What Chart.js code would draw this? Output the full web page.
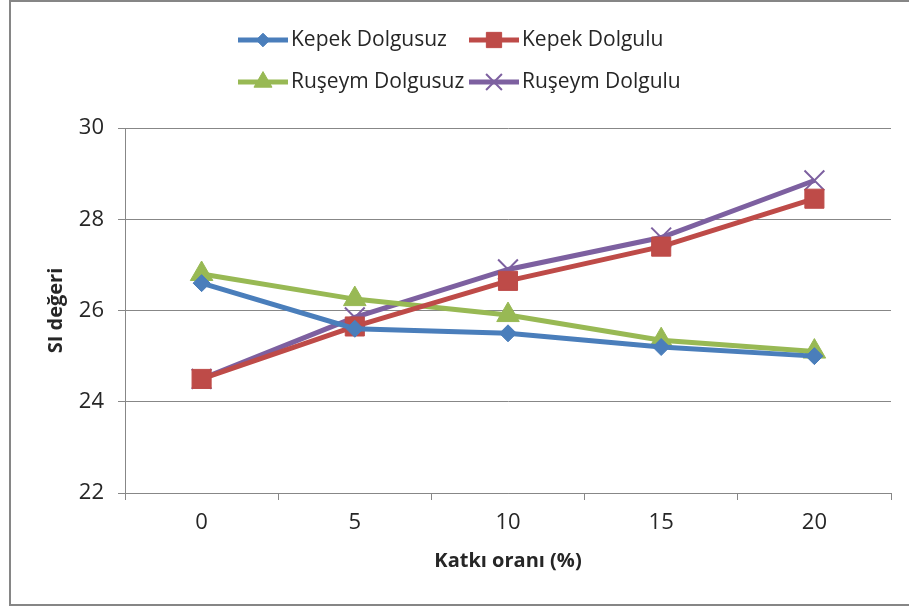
<!DOCTYPE html>
<html>
<head>
<meta charset="utf-8">
<script src="https://cdn.jsdelivr.net/npm/chart.js@4/dist/chart.umd.min.js"></script>
<style>
  html, body { margin: 0; padding: 0; background: #fff; }
  #wrap { width: 909px; height: 607px; position: relative; }
</style>
</head>
<body>
<div id="wrap"><canvas id="c" width="909" height="607"></canvas></div>
<script>
const categories = ['0', '5', '10', '15', '20'];
const kepekDolgusuz = [26.6, 25.6, 25.5, 25.2, 25.0];
const kepekDolgulu = [24.5, 25.65, 26.65, 27.4, 28.45];
const rusDolgusuz = [26.8, 26.25, 25.9, 25.35, 25.1];
const rusDolgulu = [24.5, 25.85, 26.9, 27.6, 28.85];
const seriesNames = ['Kepek Dolgusuz', 'Kepek Dolgulu', 'Ruşeym Dolgusuz', 'Ruşeym Dolgulu'];
const yTicks = [22, 24, 26, 28, 30];

const FONT = '"Open Sans", "Noto Sans", sans-serif';
const TEXT = '#262626';
const GRID = '#878787';

const styles = [
  { color: '#4A7EBB', point: 'rectRot', radius: 8.5, bw: 1 },
  { color: '#BE4B48', point: 'rect', radius: 13.5, bw: 1 },
  { color: '#98B954', point: 'triangle', radius: 13, bw: 1 },
  { color: '#7D60A0', point: 'crossRot', radius: 14, bw: 2 }
];
const values = [kepekDolgusuz, kepekDolgulu, rusDolgusuz, rusDolgulu];

const datasets = values.map((v, i) => ({
  label: seriesNames[i],
  data: v,
  borderColor: styles[i].color,
  backgroundColor: styles[i].color,
  borderWidth: 5,
  pointStyle: styles[i].point,
  pointRadius: styles[i].radius,
  pointHoverRadius: styles[i].radius,
  pointBorderWidth: styles[i].bw,
  pointBackgroundColor: styles[i].color,
  pointBorderColor: styles[i].color,
  tension: 0
}));

const legendPlugin = {
  id: 'customLegend',
  afterDraw(chart) {
    const ctx = chart.ctx;
    const cols = [238, 469];
    const rows = [40, 82];
    ctx.save();
    ctx.font = '21px ' + FONT;
    ctx.textBaseline = 'middle';
    ctx.textAlign = 'left';
    chart.data.datasets.forEach((ds, i) => {
      const x = cols[i % 2];
      const y = rows[Math.floor(i / 2)];
      ctx.strokeStyle = ds.borderColor;
      ctx.lineWidth = 5;
      ctx.lineCap = 'butt';
      ctx.beginPath();
      ctx.moveTo(x, y);
      ctx.lineTo(x + 50, y);
      ctx.stroke();
      ctx.fillStyle = ds.backgroundColor;
      ctx.lineWidth = ds.pointBorderWidth;
      Chart.helpers.drawPoint(ctx, { pointStyle: ds.pointStyle, radius: ds.pointRadius * 0.8, borderWidth: ds.pointBorderWidth, rotation: 0 }, x + 25, y);
      ctx.fillStyle = TEXT;
      ctx.fillText(ds.label, x + 53, y);
    });
    ctx.restore();
  }
};

const framePlugin = {
  id: 'frame',
  beforeDraw(chart) {
    const ctx = chart.ctx;
    ctx.save();
    ctx.fillStyle = '#fff';
    ctx.fillRect(0, 0, chart.width, chart.height);
    ctx.strokeStyle = '#868686';
    ctx.lineWidth = 2;
    ctx.beginPath();
    ctx.moveTo(909, 1);
    ctx.lineTo(10, 1);
    ctx.lineTo(10, 605);
    ctx.lineTo(909, 605);
    ctx.stroke();
    ctx.restore();
  }
};

new Chart(document.getElementById('c'), {
  type: 'line',
  data: { labels: categories, datasets },
  options: {
    responsive: false,
    animation: false,
    devicePixelRatio: 1,
    layout: { padding: { top: 128, right: 18, bottom: 0, left: 0 } },
    plugins: { legend: { display: false }, tooltip: { enabled: false } },
    scales: {
      x: {
        type: 'category',
        offset: true,
        grid: { offset: true, drawOnChartArea: false, drawTicks: true, tickLength: 7, color: GRID, lineWidth: 1 },
        border: { display: true, color: GRID, width: 1 },
        ticks: { color: TEXT, font: { family: FONT, size: 22 }, padding: 10, maxRotation: 0 },
        title: { display: true, text: 'Katkı oranı (%)', color: TEXT, font: { family: FONT, size: 20, weight: 'bold' }, padding: { top: 0, bottom: 34 } },
        afterFit(scale) { scale.height = 114; }
      },
      y: {
        min: 22,
        max: 30,
        afterBuildTicks(scale) { scale.ticks = yTicks.map(v => ({ value: v })); },
        grid: { drawTicks: true, tickLength: 7, color: GRID, lineWidth: 1 },
        border: { display: true, color: GRID, width: 1 },
        ticks: { color: TEXT, font: { family: FONT, size: 22 }, padding: 14 },
        title: { display: true, text: 'SI değeri', color: TEXT, font: { family: FONT, size: 20, weight: 'bold' }, padding: { top: 44, bottom: 0 } },
        afterFit(scale) { scale.width = 125; }
      }
    }
  },
  plugins: [framePlugin, legendPlugin]
});
</script>
</body>
</html>
